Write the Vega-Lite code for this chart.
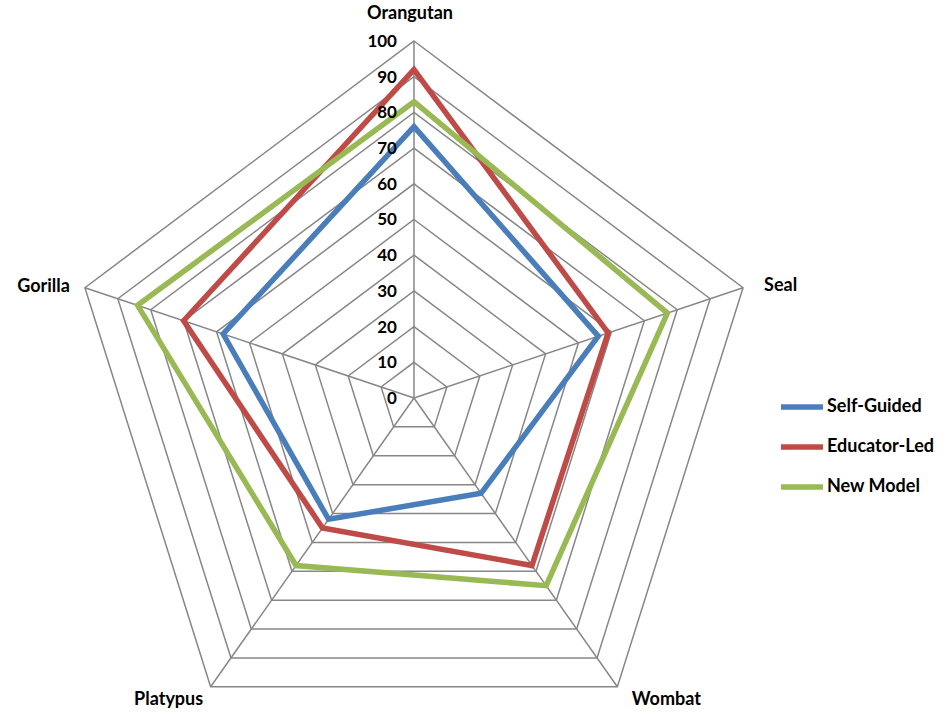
{
  "$schema": "https://vega.github.io/schema/vega-lite/v6.json",
  "width": 947,
  "height": 716,
  "autosize": {"type": "none"},
  "padding": 0,
  "background": "white",
  "config": {
    "view": {"stroke": null},
    "font": "Lato",
    "text": {"font": "Lato", "fontWeight": "bold", "fontSize": 18, "color": "black"},
    "legend": {
      "orient": "none",
      "legendX": 778,
      "legendY": 383,
      "title": null,
      "symbolType": "stroke",
      "symbolSize": 1764,
      "symbolStrokeWidth": 5.5,
      "labelFont": "Lato",
      "labelFontWeight": "bold",
      "labelFontSize": 18,
      "labelColor": "black",
      "labelOffset": 1,
      "rowPadding": 5
    }
  },
  "datasets": {
    "scores": [
      {"animal": "Orangutan", "group": "Self-Guided", "score": 76},
      {"animal": "Seal", "group": "Self-Guided", "score": 56},
      {"animal": "Wombat", "group": "Self-Guided", "score": 33},
      {"animal": "Platypus", "group": "Self-Guided", "score": 42},
      {"animal": "Gorilla", "group": "Self-Guided", "score": 58},
      {"animal": "Orangutan", "group": "Educator-Led", "score": 92},
      {"animal": "Seal", "group": "Educator-Led", "score": 59},
      {"animal": "Wombat", "group": "Educator-Led", "score": 58},
      {"animal": "Platypus", "group": "Educator-Led", "score": 45},
      {"animal": "Gorilla", "group": "Educator-Led", "score": 70},
      {"animal": "Orangutan", "group": "New Model", "score": 83},
      {"animal": "Seal", "group": "New Model", "score": 77},
      {"animal": "Wombat", "group": "New Model", "score": 65},
      {"animal": "Platypus", "group": "New Model", "score": 58},
      {"animal": "Gorilla", "group": "New Model", "score": 84}
    ],
    "axes": [
      {"animal": "Orangutan", "levels": [0, 10, 20, 30, 40, 50, 60, 70, 80, 90, 100]},
      {"animal": "Seal", "levels": [0, 10, 20, 30, 40, 50, 60, 70, 80, 90, 100]},
      {"animal": "Wombat", "levels": [0, 10, 20, 30, 40, 50, 60, 70, 80, 90, 100]},
      {"animal": "Platypus", "levels": [0, 10, 20, 30, 40, 50, 60, 70, 80, 90, 100]},
      {"animal": "Gorilla", "levels": [0, 10, 20, 30, 40, 50, 60, 70, 80, 90, 100]}
    ]
  },
  "layer": [
    {
      "data": {"name": "axes"},
      "transform": [
        {"flatten": ["levels"], "as": ["level"]},
        {"filter": "datum.level > 0"},
        {"calculate": "indexof(['Orangutan','Seal','Wombat','Platypus','Gorilla'], datum.animal)", "as": "idx"},
        {"calculate": "datum.level * sin(datum.idx * 2 * PI / 5)", "as": "x"},
        {"calculate": "datum.level * cos(datum.idx * 2 * PI / 5)", "as": "y"}
      ],
      "mark": {"type": "line", "interpolate": "linear-closed", "stroke": "#878787", "strokeWidth": 1.5},
      "encoding": {
        "x": {"field": "x", "type": "quantitative", "scale": {"domain": [-119.65, 154.05], "nice": false, "zero": false}, "axis": null},
        "y": {"field": "y", "type": "quantitative", "scale": {"domain": [-89.08, 111.48], "nice": false, "zero": false}, "axis": null},
        "detail": {"field": "level", "type": "quantitative"},
        "order": {"field": "idx", "type": "quantitative"}
      }
    },
    {
      "data": {"name": "axes"},
      "transform": [
        {"calculate": "indexof(['Orangutan','Seal','Wombat','Platypus','Gorilla'], datum.animal)", "as": "idx"},
        {"calculate": "100 * sin(datum.idx * 2 * PI / 5)", "as": "x"},
        {"calculate": "100 * cos(datum.idx * 2 * PI / 5)", "as": "y"}
      ],
      "mark": {"type": "rule", "stroke": "#878787", "strokeWidth": 1.5},
      "encoding": {
        "x": {"field": "x", "type": "quantitative"},
        "y": {"field": "y", "type": "quantitative"},
        "x2": {"datum": 0},
        "y2": {"datum": 0}
      }
    },
    {
      "data": {"name": "scores"},
      "transform": [
        {"calculate": "indexof(['Orangutan','Seal','Wombat','Platypus','Gorilla'], datum.animal)", "as": "idx"},
        {"calculate": "datum.score * sin(datum.idx * 2 * PI / 5)", "as": "x"},
        {"calculate": "datum.score * cos(datum.idx * 2 * PI / 5)", "as": "y"}
      ],
      "mark": {"type": "line", "interpolate": "linear-closed", "strokeWidth": 5.5, "strokeJoin": "miter"},
      "encoding": {
        "x": {"field": "x", "type": "quantitative"},
        "y": {"field": "y", "type": "quantitative"},
        "order": {"field": "idx", "type": "quantitative"},
        "color": {
          "field": "group",
          "type": "nominal",
          "sort": ["Self-Guided", "Educator-Led", "New Model"],
          "scale": {"domain": ["Self-Guided", "Educator-Led", "New Model"], "range": ["#4A7EBB", "#BE4B48", "#98B954"]}
        }
      }
    },
    {
      "data": {"name": "axes"},
      "transform": [
        {"filter": "datum.animal == 'Orangutan'"},
        {"flatten": ["levels"], "as": ["level"]}
      ],
      "mark": {"type": "text", "align": "right", "baseline": "middle", "dx": -17, "dy": 1, "fontSize": 17},
      "encoding": {
        "x": {"datum": 0},
        "y": {"field": "level", "type": "quantitative"},
        "text": {"field": "level", "type": "quantitative"}
      }
    },
    {
      "data": {"name": "axes"},
      "transform": [
        {"filter": "datum.animal == 'Orangutan'"},
        {"calculate": "indexof(['Orangutan','Seal','Wombat','Platypus','Gorilla'], datum.animal)", "as": "idx"},
        {"calculate": "100 * sin(datum.idx * 2 * PI / 5)", "as": "x"},
        {"calculate": "100 * cos(datum.idx * 2 * PI / 5)", "as": "y"}
      ],
      "mark": {"type": "text", "align": "center", "baseline": "middle", "dx": -4, "dy": -27},
      "encoding": {
        "x": {"field": "x", "type": "quantitative"},
        "y": {"field": "y", "type": "quantitative"},
        "text": {"field": "animal"}
      }
    },
    {
      "data": {"name": "axes"},
      "transform": [
        {"filter": "datum.animal == 'Seal'"},
        {"calculate": "indexof(['Orangutan','Seal','Wombat','Platypus','Gorilla'], datum.animal)", "as": "idx"},
        {"calculate": "100 * sin(datum.idx * 2 * PI / 5)", "as": "x"},
        {"calculate": "100 * cos(datum.idx * 2 * PI / 5)", "as": "y"}
      ],
      "mark": {"type": "text", "align": "left", "baseline": "middle", "dx": 21, "dy": -2},
      "encoding": {
        "x": {"field": "x", "type": "quantitative"},
        "y": {"field": "y", "type": "quantitative"},
        "text": {"field": "animal"}
      }
    },
    {
      "data": {"name": "axes"},
      "transform": [
        {"filter": "datum.animal == 'Gorilla'"},
        {"calculate": "indexof(['Orangutan','Seal','Wombat','Platypus','Gorilla'], datum.animal)", "as": "idx"},
        {"calculate": "100 * sin(datum.idx * 2 * PI / 5)", "as": "x"},
        {"calculate": "100 * cos(datum.idx * 2 * PI / 5)", "as": "y"}
      ],
      "mark": {"type": "text", "align": "right", "baseline": "middle", "dx": -15, "dy": -1},
      "encoding": {
        "x": {"field": "x", "type": "quantitative"},
        "y": {"field": "y", "type": "quantitative"},
        "text": {"field": "animal"}
      }
    },
    {
      "data": {"name": "axes"},
      "transform": [
        {"filter": "datum.animal == 'Platypus'"},
        {"calculate": "indexof(['Orangutan','Seal','Wombat','Platypus','Gorilla'], datum.animal)", "as": "idx"},
        {"calculate": "100 * sin(datum.idx * 2 * PI / 5)", "as": "x"},
        {"calculate": "100 * cos(datum.idx * 2 * PI / 5)", "as": "y"}
      ],
      "mark": {"type": "text", "align": "center", "baseline": "middle", "dx": -42, "dy": 13},
      "encoding": {
        "x": {"field": "x", "type": "quantitative"},
        "y": {"field": "y", "type": "quantitative"},
        "text": {"field": "animal"}
      }
    },
    {
      "data": {"name": "axes"},
      "transform": [
        {"filter": "datum.animal == 'Wombat'"},
        {"calculate": "indexof(['Orangutan','Seal','Wombat','Platypus','Gorilla'], datum.animal)", "as": "idx"},
        {"calculate": "100 * sin(datum.idx * 2 * PI / 5)", "as": "x"},
        {"calculate": "100 * cos(datum.idx * 2 * PI / 5)", "as": "y"}
      ],
      "mark": {"type": "text", "align": "center", "baseline": "middle", "dx": 49, "dy": 13},
      "encoding": {
        "x": {"field": "x", "type": "quantitative"},
        "y": {"field": "y", "type": "quantitative"},
        "text": {"field": "animal"}
      }
    }
  ]
}
